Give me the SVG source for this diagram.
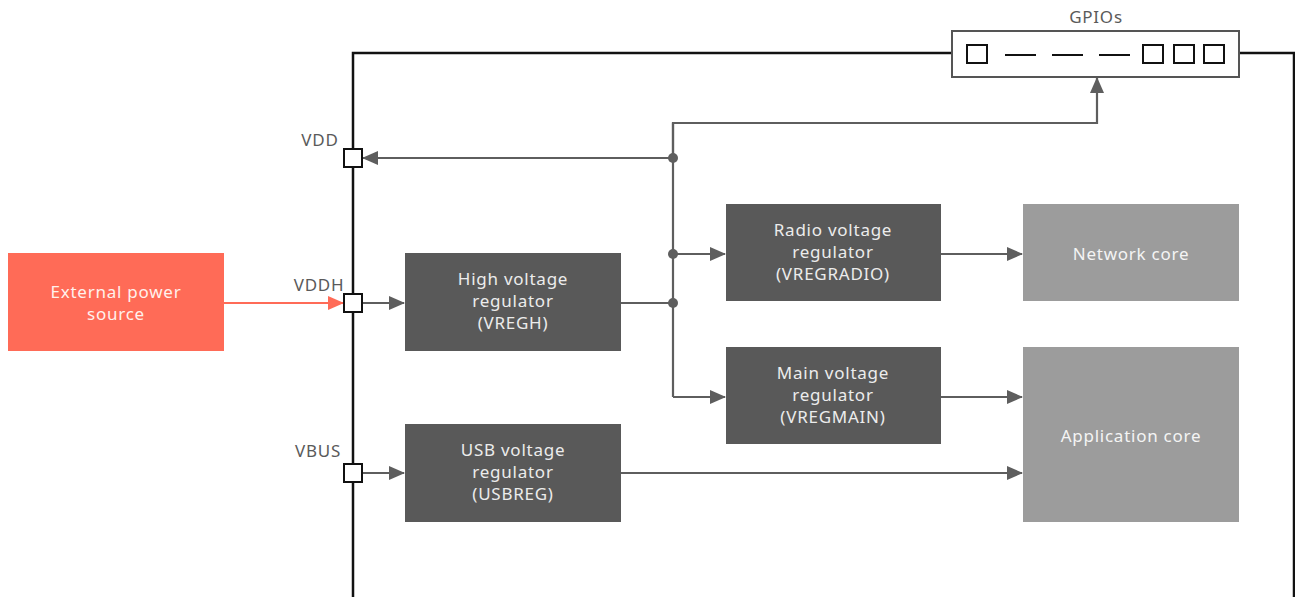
<svg xmlns="http://www.w3.org/2000/svg" width="1295" height="597" viewBox="0 0 1295 597">
<style>
text{font-family:"Noto Sans","Liberation Sans",sans-serif;font-size:17px;letter-spacing:0.75px;text-anchor:middle}
.lbl{fill:#5a5a5a}
.dark rect{fill:#595959}
.dark text{fill:#ececec}
.light rect{fill:#9c9c9c}
.light text{fill:#f4f4f4}
.pin{fill:#fff;stroke:#111;stroke-width:2}
.frame{fill:none;stroke:#111;stroke-width:2.5}
.con{fill:none;stroke:#5e5e5e;stroke-width:2.2}
</style>
<defs>
<marker id="ah" markerWidth="16" markerHeight="14" refX="15" refY="7" orient="auto" markerUnits="userSpaceOnUse"><path d="M0,0 L16,7 L0,14 Z" fill="#5e5e5e"/></marker>
<marker id="ahr" markerWidth="16" markerHeight="14" refX="15" refY="7" orient="auto" markerUnits="userSpaceOnUse"><path d="M0,0 L16,7 L0,14 Z" fill="#ff6b57"/></marker>
</defs>
<g id="frame">
<polyline class="frame" points="353,597 353,53 952,53"/>
<polyline class="frame" points="1239,53 1294,53 1294,597"/>
</g>
<g id="gpios">
<text class="lbl" x="1096" y="23" font-size="15">GPIOs</text>
<rect x="952" y="31" width="287" height="46" fill="#fff" stroke="#555" stroke-width="2"/>
<rect x="967" y="45" width="20" height="18" fill="#fff" stroke="#111" stroke-width="2"/>
<line x1="1005" y1="55" x2="1036" y2="55" stroke="#111" stroke-width="2"/>
<line x1="1052" y1="55" x2="1083" y2="55" stroke="#111" stroke-width="2"/>
<line x1="1099" y1="55" x2="1130" y2="55" stroke="#111" stroke-width="2"/>
<rect x="1143" y="45" width="20" height="18" fill="#fff" stroke="#111" stroke-width="2"/>
<rect x="1174" y="45" width="20" height="18" fill="#fff" stroke="#111" stroke-width="2"/>
<rect x="1204" y="45" width="20" height="18" fill="#fff" stroke="#111" stroke-width="2"/>
</g>
<g id="connectors">
<polyline class="con" points="673,158 673,123 1097,123 1097,78" marker-end="url(#ah)"/>
<line class="con" x1="673" y1="158" x2="363" y2="158" marker-end="url(#ah)"/>
<line class="con" x1="673" y1="123" x2="673" y2="397"/>
<line class="con" x1="673" y1="254" x2="725" y2="254" marker-end="url(#ah)"/>
<line class="con" x1="621" y1="303" x2="673" y2="303"/>
<line class="con" x1="673" y1="397" x2="725" y2="397" marker-end="url(#ah)"/>
<line class="con" x1="941" y1="254" x2="1022" y2="254" marker-end="url(#ah)"/>
<line class="con" x1="941" y1="397" x2="1022" y2="397" marker-end="url(#ah)"/>
<line class="con" x1="621" y1="473" x2="1022" y2="473" marker-end="url(#ah)"/>
<line class="con" x1="362" y1="303" x2="404" y2="303" marker-end="url(#ah)"/>
<line class="con" x1="362" y1="473" x2="404" y2="473" marker-end="url(#ah)"/>
<line x1="224" y1="303" x2="343" y2="303" stroke="#ff6b57" stroke-width="2.2" marker-end="url(#ahr)"/>
<circle cx="673" cy="158" r="5" fill="#5e5e5e"/>
<circle cx="673" cy="254" r="5" fill="#5e5e5e"/>
<circle cx="673" cy="303" r="5" fill="#5e5e5e"/>
</g>
<g id="pin-vdd">
<text class="lbl" x="320" y="146">VDD</text>
<rect class="pin" x="344" y="149" width="18" height="18"/>
</g>
<g id="pin-vddh">
<text class="lbl" x="319" y="291">VDDH</text>
<rect class="pin" x="344" y="294" width="18" height="18"/>
</g>
<g id="pin-vbus">
<text class="lbl" x="318" y="457">VBUS</text>
<rect class="pin" x="344" y="464" width="18" height="18"/>
</g>
<g id="external-power">
<rect x="8" y="253" width="216" height="98" fill="#ff6b57"/>
<text x="116" y="298" fill="#fff1ec">External power</text>
<text x="116" y="320" fill="#fff1ec">source</text>
</g>
<g id="vregh" class="dark">
<rect x="405" y="253" width="216" height="98"/>
<text x="513" y="285">High voltage</text>
<text x="513" y="307">regulator</text>
<text x="513" y="329">(VREGH)</text>
</g>
<g id="usbreg" class="dark">
<rect x="405" y="424" width="216" height="98"/>
<text x="513" y="456">USB voltage</text>
<text x="513" y="478">regulator</text>
<text x="513" y="500">(USBREG)</text>
</g>
<g id="vregradio" class="dark">
<rect x="726" y="204" width="215" height="97"/>
<text x="833" y="236">Radio voltage</text>
<text x="833" y="258">regulator</text>
<text x="833" y="280">(VREGRADIO)</text>
</g>
<g id="vregmain" class="dark">
<rect x="726" y="347" width="215" height="97"/>
<text x="833" y="379">Main voltage</text>
<text x="833" y="401">regulator</text>
<text x="833" y="423">(VREGMAIN)</text>
</g>
<g id="network-core" class="light">
<rect x="1023" y="204" width="216" height="97"/>
<text x="1131" y="260">Network core</text>
</g>
<g id="application-core" class="light">
<rect x="1023" y="347" width="216" height="175"/>
<text x="1131" y="442">Application core</text>
</g>
</svg>
